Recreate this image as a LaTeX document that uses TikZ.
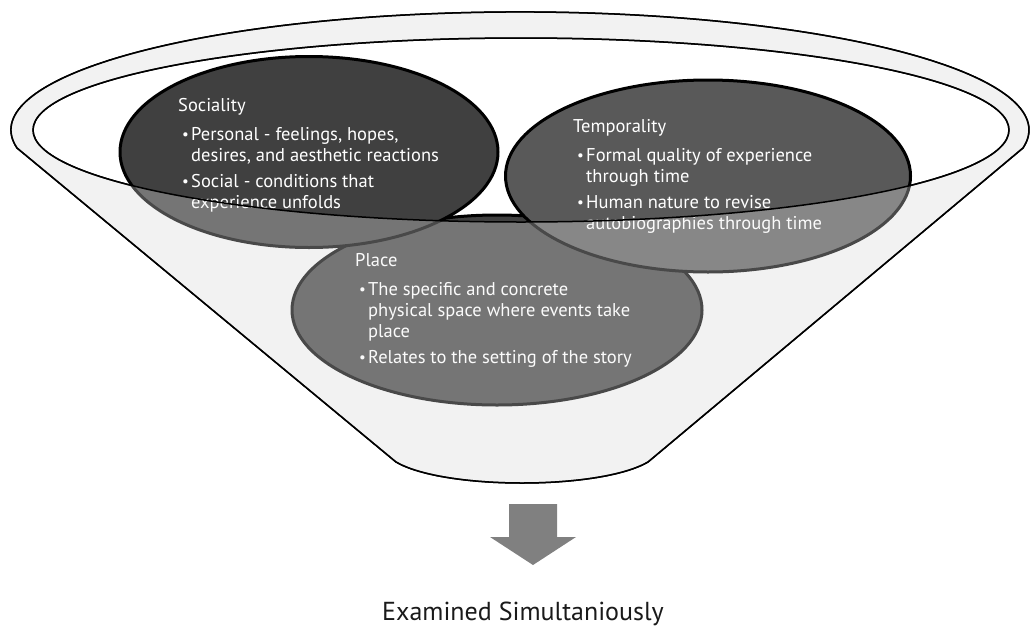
\documentclass[tikz,border=0pt]{standalone}
\usepackage{fontspec}
\setmainfont{PT Sans}
\usetikzlibrary{shapes.geometric}

\definecolor{rimgray}{HTML}{F2F2F2}
\definecolor{socfill}{HTML}{404040}
\definecolor{tempfill}{HTML}{595959}
\definecolor{arrowgray}{HTML}{808080}
\definecolor{captiongray}{HTML}{1A1A1A}

% bullet paragraph with hanging indent
\newcommand{\bitem}[1]{{\hangindent=13pt\hangafter=1\noindent\makebox[13pt][l]{\hspace{4pt}\raisebox{1pt}{\fontsize{15}{15}\selectfont\textbullet}}#1\par}}

\begin{document}
\begin{tikzpicture}[x=1pt, y=-1pt,
    bubble/.style={ellipse, draw=black, line width=3pt, inner sep=0pt, fill=socfill},
    blurb/.style={anchor=base west, inner sep=0pt, text=white, font=\fontsize{18.5}{21}\selectfont},
    rim/.style={draw=black, line width=1.5pt},
    caption/.style={anchor=base, inner sep=0pt, text=captiongray, font=\fontsize{26}{30}\selectfont}
]
\useasboundingbox (0,0) rectangle (1035,632);

% Funnel, back part
\path[rim, fill=rimgray] (17,148) arc[start angle=171.2, end angle=368.8, x radius=509, y radius=118]
    -- (648,462) .. controls (600,490) and (444,490) .. (396,462) -- cycle;
\path[rim, fill=white] (521,130) ellipse [x radius=488, y radius=92];

% Bubbles
\node[bubble, minimum width=410pt, minimum height=190pt] (place) at (497,310) {};
\node[bubble, minimum width=378pt, minimum height=191pt] (soc) at (309,152) {};
\node[bubble, fill=tempfill, minimum width=405pt, minimum height=192pt] (temp) at (708,176) {};

% Texts
\node[blurb] (socText) at (178,111) {\parbox[t]{320pt}{Sociality\par\vspace{8pt}%
    \bitem{Personal - feelings, hopes,\\desires, and aesthetic reactions}\vspace{5pt}%
    \bitem{Social - conditions that\\experience unfolds}}};
\node[blurb] (tempText) at (573,132) {\parbox[t]{320pt}{Temporality\par\vspace{8pt}%
    \bitem{Formal quality of experience\\through time}\vspace{5pt}%
    \bitem{Human nature to revise\\autobiographies through time}}};
\node[blurb] (placeText) at (355,266) {\parbox[t]{340pt}{Place\par\vspace{8pt}%
    \bitem{The specific and concrete\\physical space where events take\\place}\vspace{5pt}%
    \bitem{Relates to the setting of the story}}};

% Funnel, front part
\path[rim, fill=rimgray, fill opacity=0.3, even odd rule]
    (17,148) arc[start angle=171.2, end angle=368.8, x radius=509, y radius=118]
    -- (648,462) .. controls (600,490) and (444,490) .. (396,462) -- cycle
    (521,130) ellipse [x radius=488, y radius=92];

% Arrow and result
\fill[arrowgray] (509,504) -- (557,504) -- (557,537) -- (576,537) -- (533,565)
    -- (490,537) -- (509,537) -- cycle;
\node[caption] (result) at (523,620) {Examined Simultaniously};

\end{tikzpicture}
\end{document}
